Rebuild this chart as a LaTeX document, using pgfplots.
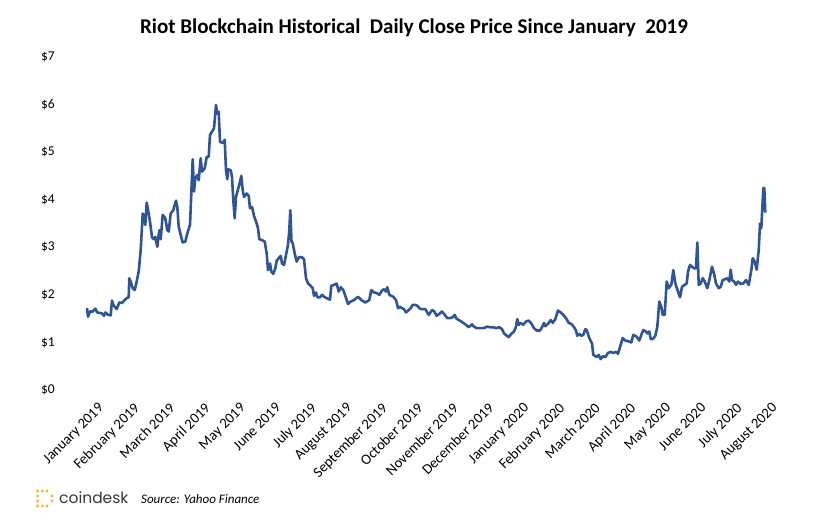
\documentclass[border=0pt]{standalone}
\usepackage{pgfplots}
\pgfplotsset{compat=1.18}
\usepackage{pgfplotstable}
\usepackage{fontspec}
\setmainfont{Carlito}
\newfontfamily\logofont{Poppins}
\definecolor{riotblue}{RGB}{47,85,151}
\definecolor{cdgold}{RGB}{246,180,40}
\definecolor{cdgray}{RGB}{55,55,55}

% t = position along the time axis (1 unit ~ 0.85 day, t=0 at 2 Jan 2019), price in USD
\pgfplotstableread{
t price
0 1.72
1 1.54
3 1.65
5.7 1.65
8.3 1.71
10.3 1.63
15 1.61
17 1.56
18.3 1.63
21 1.58
23.7 1.57
25 1.88
26.3 1.79
29.7 1.70
32.3 1.84
35 1.83
37.7 1.89
39.7 1.93
41.7 1.95
42.3 2.35
43.7 2.28
45.7 2.14
47.7 2.10
49.7 2.28
51.7 2.49
53.7 2.94
55.7 3.71
57 3.64
58.3 3.47
59.7 3.94
61.7 3.71
63 3.54
65 3.21
67 3.17
68.3 3.22
70.3 3.01
72.3 3.36
73.7 3.17
75.7 3.68
78.3 3.61
80.3 3.36
81.7 3.33
83.7 3.71
86.3 3.78
89 3.98
90.3 3.85
91.7 3.43
93.7 3.26
95.7 3.10
98.3 3.12
100.3 3.29
103 3.47
105.7 4.85
107 4.17
108.3 4.45
110.3 4.52
111.7 4.41
113.7 4.87
115 4.59
117.7 4.66
119.7 4.90
121.7 4.90
123 5.36
125 5.43
127 5.50
129 5.99
130.3 5.81
131.7 5.85
133 5.22
135.7 5.19
137.7 5.26
139 4.62
140.3 4.43
141 4.64
143.7 4.62
145 4.48
146.3 3.99
147.7 3.61
149 4.06
151.7 4.27
153 4.38
154.3 4.50
155.7 4.20
157 4.06
159.7 4.13
161.7 4.08
163 3.82
165 3.85
167 3.66
169.7 3.50
171 3.40
172.3 3.17
175 3.15
177.7 3.12
179.7 2.87
181 2.52
183 2.66
184.3 2.49
186.3 2.44
188.3 2.56
189.7 2.72
191.7 2.77
193.7 2.82
195 2.66
197 2.63
199 2.84
201 3.05
202.3 3.36
203.3 3.78
204.5 3.12
205.7 3.09
207.7 2.87
209.7 2.70
211.7 2.79
215 2.79
217 2.75
219 2.35
221 2.24
223.7 2.19
225.7 2.14
227 1.98
229 2.05
230.3 1.95
233 1.95
235 2.00
237 1.96
239.7 1.93
243 1.90
244.3 2.19
247 2.21
249.7 2.24
251.7 2.07
253.7 2.16
256.3 2.10
258.3 1.98
261 1.81
263.7 1.86
267 1.89
271 1.96
274.3 1.89
278.3 1.84
282.3 1.89
284.3 2.10
287 2.05
289.7 2.04
292.3 2.00
295 2.09
297 2.12
299 2.07
300.3 2.16
302.3 2.00
304.3 1.98
306.3 1.96
309 1.89
311 1.72
313 1.75
315 1.72
317 1.70
319 1.63
321.7 1.68
323.7 1.72
325.7 1.79
328.3 1.79
330.3 1.77
332.3 1.72
334.3 1.70
338.3 1.70
341.7 1.58
345 1.68
347 1.66
349.7 1.56
352.3 1.60
355 1.65
357.7 1.58
360.3 1.51
363 1.51
365.7 1.53
367.7 1.58
369 1.51
371.7 1.47
374.3 1.44
376.3 1.41
379 1.37
381.7 1.32
385 1.38
387 1.33
389.7 1.30
393 1.30
396.3 1.30
400.3 1.33
403 1.32
406.3 1.32
409 1.30
412.3 1.32
415 1.28
417 1.19
421.7 1.11
424.3 1.18
427 1.23
429 1.33
430.3 1.49
431.7 1.37
433.7 1.41
436.3 1.37
439 1.44
441.7 1.46
444.3 1.40
447 1.30
449.7 1.25
453 1.25
455 1.32
457 1.41
458.3 1.34
461 1.39
463.7 1.47
465.7 1.41
468.3 1.49
471 1.67
473.7 1.63
476.3 1.58
479 1.51
481.7 1.41
484.3 1.39
487 1.32
489 1.25
490.3 1.14
492.3 1.18
494.3 1.14
496.3 1.16
498.3 1.28
499.7 1.26
502.3 1.09
505 0.98
506.3 0.74
509.7 0.69
511.7 0.74
513.7 0.65
515.7 0.71
518.3 0.69
521 0.78
523.7 0.80
526.3 0.78
529 0.80
531 0.76
533.7 0.95
535.7 1.09
538.3 1.04
541.7 1.02
544.3 1.00
546.3 1.16
549.7 1.12
552.3 1.04
554.3 1.16
556.3 1.26
558.3 1.24
560.3 1.19
562.3 1.23
563.7 1.07
565.7 1.07
568.3 1.14
570.3 1.33
572.3 1.86
574.3 1.75
575.7 1.58
577.7 1.58
579.7 2.28
581.7 2.14
584.3 2.21
586.3 2.52
588.3 2.24
591 2.07
593 1.95
595 2.17
597.7 2.21
599.7 2.24
601 2.49
603 2.63
605 2.59
607 2.56
609 2.56
610.3 3.10
611.7 2.21
613.7 2.24
615.7 2.35
617.7 2.28
620.3 2.14
622.3 2.31
625 2.59
627 2.45
629 2.24
631.7 2.14
633.7 2.17
635.7 2.31
638.3 2.33
640.3 2.35
642.3 2.28
643.7 2.53
645 2.31
647 2.28
649 2.21
651 2.28
653.7 2.23
656.3 2.24
659 2.31
661.7 2.21
664.3 2.52
665.7 2.77
667.7 2.70
669.7 2.53
671.7 2.94
673 3.50
674.3 3.40
675.7 3.99
676.5 4.25
677.3 4.24
678.3 3.73
}\riotdata

\begin{document}
\begin{tikzpicture}
\useasboundingbox (0,0) rectangle (823bp,525bp);
\begin{axis}[
  at={(72bp,135bp)}, anchor=south west,
  scale only axis, width=715bp, height=333bp,
  xmin=-15, xmax=700, ymin=0, ymax=7,
  axis line style={draw=none},
  major tick length=0pt,
  clip=false,
  /pgf/number format/assume math mode=true,
  ytick={0,1,2,3,4,5,6,7},
  yticklabels={\$0,\$1,\$2,\$3,\$4,\$5,\$6,\$7},
  yticklabel style={font=\fontsize{13.5bp}{16bp}\selectfont, anchor=east, inner sep=0pt, xshift=-17bp},
  xtick={16.5,51.94,87.38,122.82,158.26,193.7,229.14,264.58,300.02,335.46,370.9,406.34,441.78,477.22,512.66,548.1,583.54,618.98,654.42,689.86},
  xticklabels={January 2019,February 2019,March 2019,April 2019,May 2019,June 2019,July 2019,August 2019,September 2019,October 2019,November 2019,December 2019,January 2020,February 2020,March 2020,April 2020,May 2020,June 2020,July 2020,August 2020},
  xticklabel style={font=\fontsize{14.6bp}{17bp}\selectfont, rotate=45, anchor=north east, inner sep=0pt, xshift=-12.5bp, yshift=-4bp},
]
\addplot[riotblue, line width=2.6bp, line join=round, no marks] table[x=t, y=price] {\riotdata};
\end{axis}
% title
\node[anchor=base, font=\bfseries\fontsize{21bp}{25bp}\selectfont] at (414bp,491bp)
  {Riot Blockchain Historical\ \ Daily Close Price Since January\ \ 2019};
% footer: coindesk logo and source
\foreach \yy in {491,496,501,506} \fill[cdgold] (37.5bp,525bp-\yy bp) circle (1.6bp);
\foreach \xx in {42.5,47} {\fill[cdgold] (\xx bp,34bp) circle (1.6bp); \fill[cdgold] (\xx bp,19bp) circle (1.6bp);}
\fill[cdgold] (52bp,29bp) circle (1.6bp);
\fill[cdgold] (52bp,24bp) circle (1.6bp);
\node[anchor=base west, inner sep=0pt, text=cdgray, font=\logofont\fontsize{15.5bp}{18bp}\selectfont] at (59bp,22bp) {coindesk};
\node[anchor=base west, inner sep=0pt, font=\itshape\fontsize{13bp}{16bp}\selectfont] at (141bp,22bp) {Source: Yahoo Finance};
\end{tikzpicture}
\end{document}
